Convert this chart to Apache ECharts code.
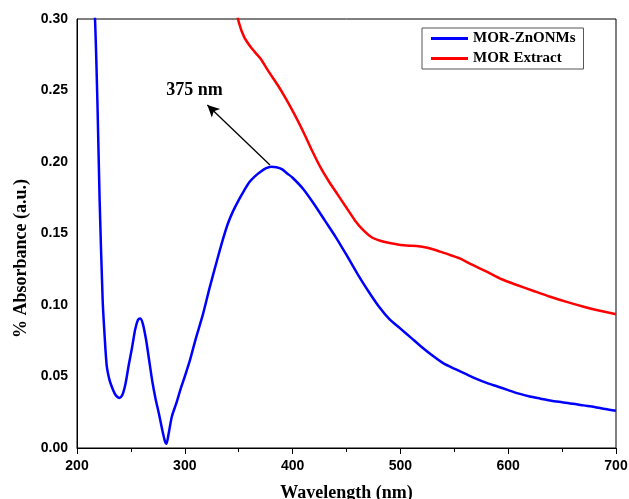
<!DOCTYPE html>
<html>
<head>
<meta charset="utf-8">
<script src="https://cdn.jsdelivr.net/npm/echarts@6/dist/echarts.min.js"></script>
<style>html,body{margin:0;padding:0;background:#fff}#c{width:629px;height:499px}</style>
</head>
<body>
<div id="c"></div>
<script>
// Wavelength (nm) and absorbance values
const blueX = [214,216.7,219,221,223.8,225.5,227.5,230,232.2,235,237,239.3,242,245,248,251,254,256.5,258.5,261,264,267,270,273,276,279,281.5,283,285,288,292,296,300,305,310,317,323,330,335,340,345,350,355,360,365,370,375,380,385,390,395,400,410,420,430,440,450,460,470,480,490,500,510,520,530,540,550,560,570,580,590,600,610,620,630,640,650,660,670,680,690,700];
const blueY = [0.33,0.30,0.24,0.173,0.1035,0.08,0.058,0.048,0.043,0.038,0.036,0.035,0.037,0.045,0.058,0.070,0.083,0.0895,0.0905,0.087,0.076,0.061,0.046,0.034,0.024,0.013,0.005,0.003,0.010,0.022,0.031,0.041,0.050,0.062,0.076,0.094,0.112,0.1315,0.145,0.157,0.166,0.1734,0.180,0.186,0.190,0.193,0.1955,0.1967,0.1963,0.195,0.192,0.189,0.181,0.1705,0.159,0.1475,0.135,0.122,0.110,0.099,0.090,0.0835,0.077,0.0705,0.0645,0.0592,0.0555,0.052,0.0485,0.0455,0.043,0.0405,0.038,0.036,0.0345,0.033,0.032,0.031,0.0298,0.0287,0.0272,0.026];
const redX = [347,350,355,362,370,378,386,394,402,410,418,426,434,442,450,458,466,474,482,490,500,508,515,525,537,546,555,567,580,594,608,623,639,655,670,685,700];
const redY = [0.31,0.298,0.2875,0.2795,0.2725,0.263,0.254,0.244,0.233,0.221,0.208,0.196,0.186,0.177,0.168,0.159,0.152,0.147,0.1448,0.1433,0.142,0.1415,0.1413,0.140,0.1373,0.135,0.1326,0.128,0.1233,0.118,0.114,0.110,0.1058,0.102,0.0988,0.096,0.0935];
const seriesNames = ['MOR-ZnONMs','MOR Extract'];
const xTicks = [200,300,400,500,600,700];
const yTicks = [0.00,0.05,0.10,0.15,0.20,0.25,0.30];
const peakLabel = '375 nm';

const zip = (xs, ys) => xs.map((x, i) => [x, ys[i]]);

const chart = echarts.init(document.getElementById('c'), null, {renderer:'canvas'});
const serif = '"Liberation Serif", "Times New Roman", serif';
const sans = '"Liberation Sans", Arial, sans-serif';
chart.setOption({
  animation: false,
  backgroundColor: '#fff',
  grid: {left: 77, right: 13, top: 19, bottom: 51, show: true, borderColor: '#000', borderWidth: 1,
    containLabel: false, outerBoundsMode: 'none'},
  legend: {
    orient: 'vertical', left: 422, top: 28,
    data: seriesNames,
    icon: 'rect', itemWidth: 37, itemHeight: 3, itemGap: 5,
    padding: [3, 8, 3, 9],
    borderColor: '#555', borderWidth: 1,
    textStyle: {fontFamily: serif, fontWeight: 'bold', fontSize: 15, color: '#000'}
  },
  xAxis: {
    type: 'value', min: xTicks[0], max: xTicks[xTicks.length-1], interval: 100,
    name: 'Wavelength (nm)', nameLocation: 'middle', nameGap: 36,
    nameTextStyle: {fontFamily: serif, fontWeight: 'bold', fontSize: 18, color: '#000'},
    axisLine: {lineStyle: {color: '#000', width: 1}},
    axisTick: {show: true, length: 6, lineStyle: {color: '#000'}},
    minorTick: {show: true, splitNumber: 2, length: 4, lineStyle: {color: '#000'}},
    splitLine: {show: false},
    axisLabel: {fontFamily: sans, fontWeight: 'bold', fontSize: 14, color: '#000', margin: 11}
  },
  yAxis: {
    type: 'value', min: yTicks[0], max: yTicks[yTicks.length-1], interval: 0.05,
    name: '% Absorbance (a.u.)', nameLocation: 'middle', nameGap: 47,
    nameTextStyle: {fontFamily: serif, fontWeight: 'bold', fontSize: 18, color: '#000', padding: [0, 50, 0, 0]},
    axisLine: {show: true, lineStyle: {color: '#000', width: 1}},
    axisTick: {show: false},
    splitLine: {show: false},
    axisLabel: {fontFamily: sans, fontWeight: 'bold', fontSize: 14, color: '#000', margin: 9,
      formatter: v => v.toFixed(2)}
  },
  series: [
    {
      name: seriesNames[0], type: 'line', data: zip(blueX, blueY), showSymbol: false, symbol: 'none',
      smooth: 0.25, clip: true,
      lineStyle: {color: '#0000ff', width: 2.5}, itemStyle: {color: '#0000ff'},
      markLine: {
        silent: true, symbol: ['none', 'arrow'], symbolSize: [9, 12],
        lineStyle: {color: '#000', width: 1.3, type: 'solid'},
        label: {show: false},
        data: [[{coord: [379, 0.1979]}, {coord: [320.9, 0.2399]}]]
      },
      markPoint: {
        silent: true, symbol: 'circle', symbolSize: 0,
        label: {show: true, position: 'inside', formatter: peakLabel,
          fontFamily: serif, fontWeight: 'bold', fontSize: 18, color: '#000'},
        data: [{coord: [309, 0.2503]}]
      }
    },
    {
      name: seriesNames[1], type: 'line', data: zip(redX, redY), showSymbol: false, symbol: 'none',
      smooth: 0.25, clip: true,
      lineStyle: {color: '#ff0000', width: 2.5}, itemStyle: {color: '#ff0000'}
    }
  ]
});
</script>
</body>
</html>
